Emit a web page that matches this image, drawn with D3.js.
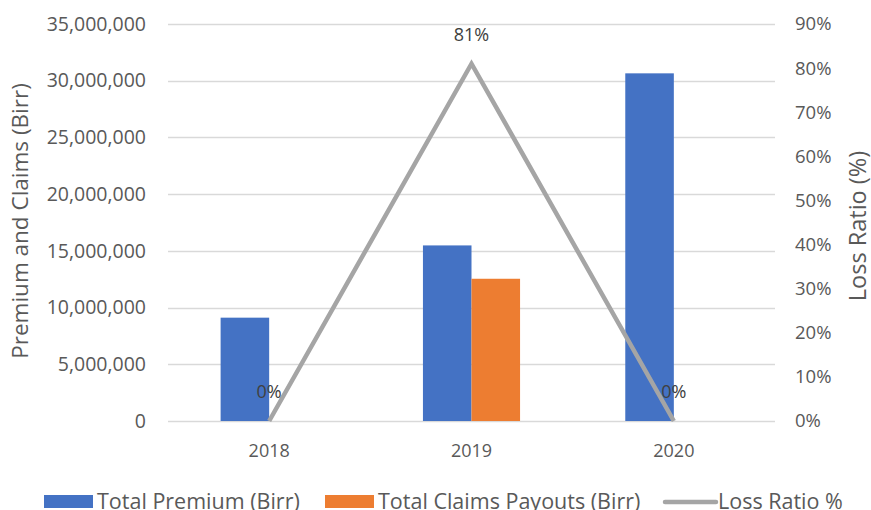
<!DOCTYPE html>
<html>
<head>
<meta charset="utf-8">
<script src="https://cdn.jsdelivr.net/npm/d3@7"></script>
<style>
  html, body { margin: 0; padding: 0; background: #fff; }
  svg { display: block; font-family: "Open Sans", sans-serif; }
</style>
</head>
<body>
<svg id="chart" width="871" height="510"></svg>
<script>
// Premium, claims and loss ratio by year
const years = ["2018", "2019", "2020"];
const totalPremium = [9110000, 15480000, 30650000];
const totalClaims = [0, 12540000, 0];
const lossRatio = [0, 0.81, 0];
const leftTicks = [0, 5000000, 10000000, 15000000, 20000000, 25000000, 30000000, 35000000];
const rightTicks = [0, 0.1, 0.2, 0.3, 0.4, 0.5, 0.6, 0.7, 0.8, 0.9];
const seriesNames = ["Total Premium (Birr)", "Total Claims Payouts (Birr)", "Loss Ratio %"];
const colors = ["#4472C4", "#ED7D31", "#A5A5A5"];

const svg = d3.select("#chart");
const plot = { left: 168, right: 775, top: 24, bottom: 421 };

const x = d3.scaleBand().domain(years).range([plot.left, plot.right])
  .paddingInner(0.52).paddingOuter(0.26);
const xSub = d3.scaleBand().domain([0, 1]).range([0, x.bandwidth()]);
const yLeft = d3.scaleLinear().domain([0, 35000000]).range([plot.bottom, plot.top]);
const yRight = d3.scaleLinear().domain([0, 0.9]).range([plot.bottom, plot.top]);

// Gridlines
svg.append("g")
  .selectAll("line").data(leftTicks).join("line")
  .attr("x1", plot.left).attr("x2", plot.right)
  .attr("y1", d => Math.round(yLeft(d)) + 0.5).attr("y2", d => Math.round(yLeft(d)) + 0.5)
  .attr("stroke", "#D9D9D9").attr("stroke-width", 1.3);

// Left axis
const leftAxis = svg.append("g").attr("transform", `translate(${plot.left},0)`)
  .call(d3.axisLeft(yLeft).tickValues(leftTicks).tickFormat(d3.format(",")).tickSize(0).tickPadding(22));
leftAxis.select(".domain").remove();
leftAxis.selectAll("text").attr("fill", "#595959").style("font-size", "19.5px")
  .style("font-family", "'Open Sans', sans-serif");

// Right axis
const rightAxis = svg.append("g").attr("transform", `translate(${plot.right},0)`)
  .call(d3.axisRight(yRight).tickValues(rightTicks).tickFormat(d3.format(".0%")).tickSize(0).tickPadding(20));
rightAxis.select(".domain").remove();
rightAxis.selectAll("text").attr("fill", "#595959").style("font-size", "18.5px")
  .style("font-family", "'Open Sans', sans-serif");

// Category axis
const bottomAxis = svg.append("g").attr("transform", `translate(0,${plot.bottom})`)
  .call(d3.axisBottom(x).tickSize(0).tickPadding(23));
bottomAxis.select(".domain").remove();
bottomAxis.selectAll("text").attr("fill", "#595959").style("font-size", "18px")
  .style("font-family", "'Open Sans', sans-serif");

// Bars
const barSeries = [totalPremium, totalClaims];
barSeries.forEach((vals, si) => {
  svg.append("g").selectAll("rect").data(years).join("rect")
    .attr("x", d => x(d) + xSub(si))
    .attr("width", xSub.bandwidth())
    .attr("y", (d, i) => yLeft(vals[i]))
    .attr("height", (d, i) => yLeft(0) - yLeft(vals[i]))
    .attr("fill", colors[si]);
});

// Loss ratio line
const line = d3.line()
  .x((d, i) => x(years[i]) + x.bandwidth() / 2)
  .y(d => yRight(d));
svg.append("path").datum(lossRatio)
  .attr("d", line).attr("fill", "none")
  .attr("stroke", colors[2]).attr("stroke-width", 4.5)
  .attr("stroke-linejoin", "miter");

// Loss ratio labels
svg.append("g").selectAll("text").data(lossRatio).join("text")
  .attr("x", (d, i) => x(years[i]) + x.bandwidth() / 2)
  .attr("y", d => yRight(d) - 29)
  .attr("dy", "0.35em")
  .attr("text-anchor", "middle")
  .attr("fill", "#404040").style("font-size", "18px")
  .text(d => d3.format(".0%")(d));

// Axis titles
svg.append("text")
  .attr("transform", "translate(20,221) rotate(-90)")
  .attr("text-anchor", "middle").attr("dy", "0.35em")
  .attr("fill", "#595959").style("font-size", "22.5px")
  .text("Premium and Claims (Birr)");
svg.append("text")
  .attr("transform", "translate(858,226) rotate(-90)")
  .attr("text-anchor", "middle").attr("dy", "0.35em")
  .attr("fill", "#595959").style("font-size", "23.5px")
  .text("Loss Ratio (%)");

// Legend
const legendItems = [
  { name: seriesNames[0], color: colors[0], type: "rect", x: 44 },
  { name: seriesNames[1], color: colors[1], type: "rect", x: 325 },
  { name: seriesNames[2], color: colors[2], type: "line", x: 665 }
];
const legend = svg.append("g");
legendItems.forEach(item => {
  if (item.type === "rect") {
    legend.append("rect").attr("x", item.x).attr("y", 495).attr("width", 49).attr("height", 13)
      .attr("fill", item.color);
  } else {
    legend.append("line").attr("x1", item.x).attr("x2", item.x + 51)
      .attr("y1", 502).attr("y2", 502)
      .attr("stroke", item.color).attr("stroke-width", 4.5).attr("stroke-linecap", "round");
  }
  legend.append("text").attr("x", item.x + 53).attr("y", 509)
    .attr("fill", "#595959").style("font-size", "21.5px")
    .text(item.name);
});
</script>
</body>
</html>
